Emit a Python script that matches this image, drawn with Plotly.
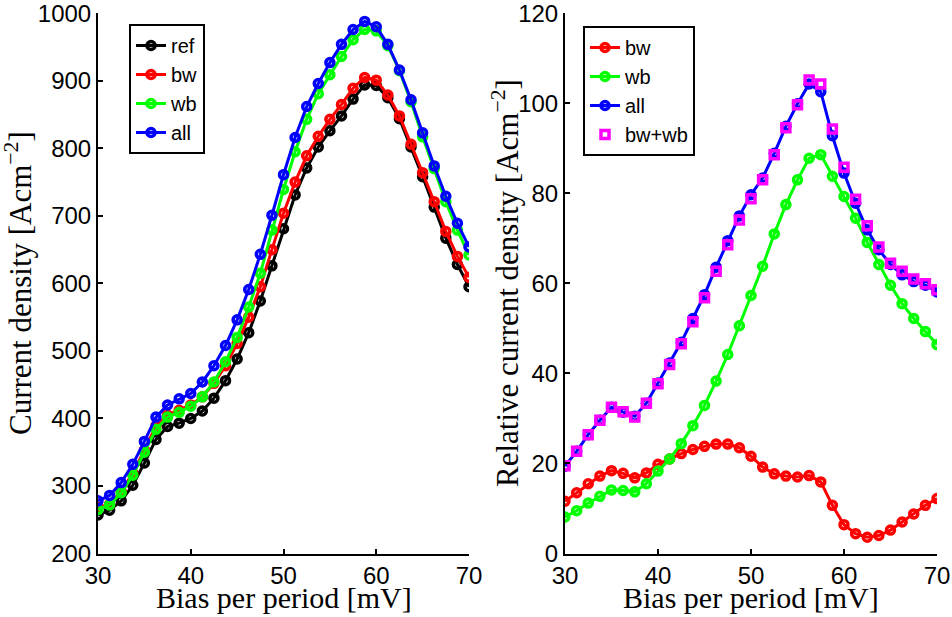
import plotly.graph_objects as go
from plotly.subplots import make_subplots

bias = [30, 31.25, 32.5, 33.75, 35, 36.25, 37.5, 38.75, 40, 41.25, 42.5, 43.75, 45, 46.25,
        47.5, 48.75, 50, 51.25, 52.5, 53.75, 55, 56.25, 57.5, 58.75, 60, 61.25, 62.5, 63.75,
        65, 66.25, 67.5, 68.75, 70]

# Left panel: current density
ref = [257, 264, 278, 301, 334, 369, 388, 393, 400, 411, 430, 456, 488, 527,
       574, 626, 681, 731, 771, 802, 826, 848, 873, 894, 893, 875, 844, 802,
       758, 713, 667, 628, 595]
bw = [268, 273, 292, 319, 353, 389, 405, 412, 420, 432, 452, 478, 511, 550,
      595, 650, 704, 750, 789, 818, 843, 865, 889, 905, 901, 879, 848, 806,
      764, 721, 677, 640, 609]
wb = [265, 272, 290, 316, 350, 384, 402, 409, 418, 432, 454, 484, 520, 565,
      615, 679, 739, 795, 843, 881, 909, 936, 961, 976, 974, 952, 915, 869,
      817, 770, 721, 679, 642]
all_ = [278, 286, 305, 332, 366, 402, 420, 429, 437, 454, 478, 508, 546, 591,
        643, 701, 761, 816, 862, 896, 927, 954, 976, 988, 980, 954, 916, 872,
        823, 774, 729, 689, 654]

# Right panel: relative current density
rel_bw = [11.6, 13.5, 15.5, 17.2, 18.4, 17.8, 16.8, 17.9, 19.8, 21.0, 22.2, 23.1, 23.8, 24.3,
          24.3, 23.5, 21.6, 19.2, 17.7, 17.2, 17.0, 17.3, 15.9, 10.7, 6.4, 4.4, 3.6, 4.0,
          5.2, 7.0, 8.8, 10.7, 12.2]
rel_wb = [8.1, 9.5, 11.2, 12.7, 14.1, 14.0, 13.7, 15.5, 18.3, 21.0, 24.4, 28.4, 32.9, 38.3,
          44.2, 50.6, 57.3, 63.8, 71.0, 77.5, 83.0, 87.8, 88.6, 83.8, 79.3, 74.5, 69.1, 64.2,
          59.6, 55.5, 52.2, 49.3, 46.4]
rel_all = [19.4, 22.7, 26.4, 29.6, 32.5, 31.4, 30.5, 33.4, 37.9, 42.3, 46.9, 52.2, 57.5, 63.6,
           69.5, 75.0, 79.7, 83.4, 88.9, 94.9, 99.9, 104.3, 102.6, 92.8, 84.5, 77.8, 71.9, 67.5,
           64.2, 61.9, 60.4, 59.6, 58.1]
rel_sum = [19.5, 22.7, 26.4, 29.6, 32.5, 31.5, 30.3, 33.4, 37.7, 42.0, 46.6, 51.5, 56.8, 62.7,
           68.6, 74.1, 78.8, 83.0, 88.6, 94.6, 99.7, 105.2, 104.3, 94.3, 85.8, 78.7, 72.8, 68.1,
           64.5, 62.7, 61.0, 59.9, 58.6]

left_ticks_y = [200, 300, 400, 500, 600, 700, 800, 900, 1000]
right_ticks_y = [0, 20, 40, 60, 80, 100, 120]
ticks_x = [30, 40, 50, 60, 70]

W, H = 952, 617
fig = make_subplots(rows=1, cols=2)

LW = 3
MS = 8

def add(x, y, name, color, col, legend, symbol="circle-open", mode="lines+markers"):
    fig.add_trace(go.Scatter(
        x=x, y=y, name=name, mode=mode,
        line=dict(color=color, width=LW),
        marker=dict(symbol=symbol, size=MS, color=color, line=dict(color=color, width=3.5)),
        legend=legend,
    ), row=1, col=col)

add(bias, ref, "ref", "#000000", 1, "legend")
add(bias, bw, "bw", "#ff0000", 1, "legend")
add(bias, wb, "wb", "#00ff00", 1, "legend")
add(bias, all_, "all", "#0000ff", 1, "legend")

add(bias, rel_bw, "bw", "#ff0000", 2, "legend2")
add(bias, rel_wb, "wb", "#00ff00", 2, "legend2")
add(bias, rel_all, "all", "#0000ff", 2, "legend2")
fig.add_trace(go.Scatter(
    x=bias, y=rel_sum, name="bw+wb", mode="markers",
    marker=dict(symbol="square-open", size=8, color="#ff00ff", line=dict(color="#ff00ff", width=3.5)),
    legend="legend2",
), row=1, col=2)

tickfont = dict(family="Liberation Sans, Arial, sans-serif", size=24, color="black")
serif = "Liberation Serif, Times New Roman, serif"

axis_common = dict(
    showgrid=False, zeroline=False, showline=True, linecolor="black", linewidth=2,
    ticks="inside", ticklen=5, tickwidth=1.5, tickcolor="black", tickfont=tickfont,
    mirror=False, automargin=False, ticklabeloverflow="allow",
)

ydom = [1 - 553.5 / H, 1 - 13.3 / H]
fig.update_xaxes(**axis_common, range=[30, 70], tickvals=ticks_x)
fig.update_xaxes(domain=[98 / W, 469 / W], row=1, col=1)
fig.update_xaxes(domain=[565 / W, 937 / W], row=1, col=2)
fig.update_yaxes(**axis_common)
fig.update_yaxes(domain=ydom, range=[200, 1000], tickvals=left_ticks_y, row=1, col=1)
fig.update_yaxes(domain=ydom, range=[0, 120], tickvals=right_ticks_y, row=1, col=2)

# axis titles placed as annotations for exact positioning
titles = [
    dict(text="Bias per period [mV]", x=284 / W, y=1 - 597 / H, textangle=0, size=30),
    dict(text="Bias per period [mV]", x=751 / W, y=1 - 597 / H, textangle=0, size=30),
    dict(text="Current density [Acm<sup>−2</sup>]", x=18 / W, y=1 - 283 / H, textangle=-90, size=31),
    dict(text="Relative current density [Acm<sup>−2</sup>]", x=505 / W, y=1 - 283 / H, textangle=-90, size=31),
]
for t in titles:
    fig.add_annotation(text=t["text"], x=t["x"], y=t["y"], xref="paper", yref="paper",
                       xanchor="center", yanchor="middle", textangle=t["textangle"],
                       showarrow=False, font=dict(family=serif, size=t["size"], color="black"))

legfont = dict(family="Liberation Sans, Arial, sans-serif", size=20, color="black")
fig.update_layout(
    width=W, height=H,
    margin=dict(l=0, r=0, t=0, b=0),
    paper_bgcolor="white", plot_bgcolor="white",
    legend=dict(x=129 / W, y=1 - 24 / H, xanchor="left", yanchor="top", bgcolor="white",
                bordercolor="black", borderwidth=2, font=legfont, tracegroupgap=0,
                itemwidth=30),
    legend2=dict(x=583 / W, y=1 - 26 / H, xanchor="left", yanchor="top", bgcolor="white",
                 bordercolor="black", borderwidth=2, font=legfont, tracegroupgap=0,
                 itemwidth=30),
    showlegend=True,
)

fig.write_html("out.html", config={"displayModeBar": False},
               post_script="document.body.style.margin='0';document.body.style.padding='0';")
